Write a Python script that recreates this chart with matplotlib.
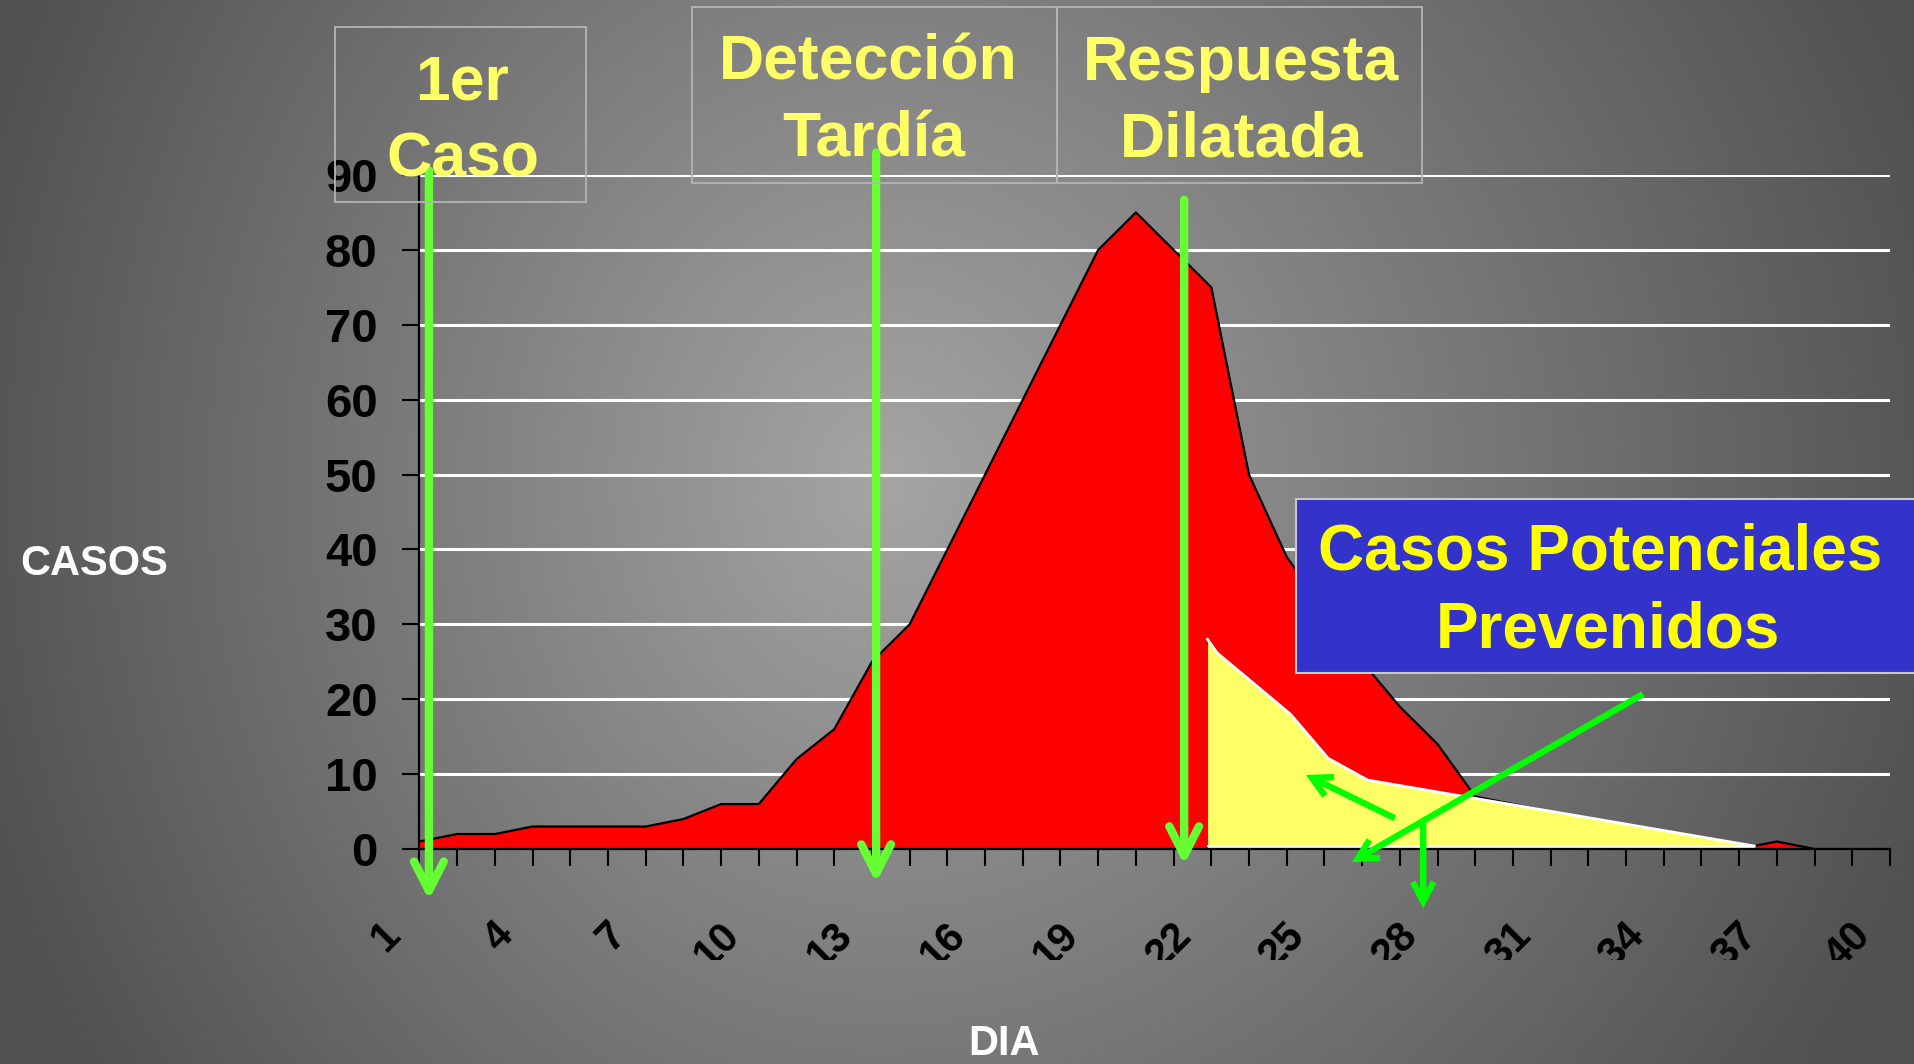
import numpy as np
import matplotlib
matplotlib.use('Agg')
import matplotlib.pyplot as plt
from matplotlib.patches import Rectangle
from matplotlib import transforms

plt.rcParams['font.family'] = ['Liberation Sans', 'DejaVu Sans']
plt.rcParams['font.weight'] = 'bold'

# ---------------- data ----------------
dias = list(range(1, 41))
casos = [1, 2, 2, 3, 3, 3, 3, 4, 6, 6, 12, 16, 25, 30, 40, 50, 60, 70, 80, 85,
         80, 75, 50, 39, 32, 25, 19, 14, 7, 6, 5, 4, 3, 2, 1, 0, 1, 0, 0, 0]
# casos potenciales prevenidos (yellow region)
prev_dia = [21.9, 22.15, 24.1, 25.1, 26.15, 36.4]
prev_casos = [28.0, 26.2, 18.0, 12.1, 9.2, 0.4]

y_ticks = [0, 10, 20, 30, 40, 50, 60, 70, 80, 90]
x_label_dias = [1, 4, 7, 10, 13, 16, 19, 22, 25, 28, 31, 34, 37, 40]
x_labels = ['1', '4', '7', '10', '13', '16', '19', '22', '25', '28', '31', '34', '37', '40']

# phase arrows: (day, start value, end value)
fase_dia = [1.25, 13.11, 21.28]
fase_ini = [90.6, 93.0, 86.7]
fase_fin = [-6.8, -4.5, -2.1]
# "prevented" arrows: start (day, value) -> end (day, value)
prev_flecha_ini = [(33.45, 20.7), (26.87, 4.1), (27.62, 3.4)]
prev_flecha_fin = [(25.73, -1.74), (24.51, 9.88), (27.62, -7.9)]

W, H = 1915, 1064
fig = plt.figure(figsize=(W / 100, H / 100), dpi=100)


def fx(px):
    return px / W


def fy(py):
    return 1 - py / H


# ---------------- background gradient ----------------
bg = fig.add_axes([0, 0, 1, 1], zorder=-5)
yy, xx = np.mgrid[0:H, 0:W]
cx, cy = 880.0, 480.0
rx = np.where(xx < cx, 950.0, 1120.0)
r = np.sqrt(((xx - cx) / rx) ** 2 + ((yy - cy) / 1100.0) ** 2)
v = (80 + 85 * np.clip(1 - r, 0, 1)) / 255.0
img = np.dstack([v, v, v])
bg.imshow(img, aspect='auto', extent=[0, 1, 0, 1], interpolation='bilinear')
bg.set_xlim(0, 1)
bg.set_ylim(0, 1)
bg.axis('off')

# ---------------- main axes ----------------
x0p, x1p = 419.5, 1890.0
y0p, y1p = 849.0, 175.0
ax = fig.add_axes([fx(x0p), fy(y0p), (x1p - x0p) / W, (y0p - y1p) / H])
ax.set_facecolor('none')
ax.set_xlim(1, 40)
ax.set_ylim(0, 90)

ax.set_axisbelow(True)
ax.yaxis.grid(True, color='white', lw=2.2, zorder=0)
ax.xaxis.grid(False)

ax.fill_between(dias, casos, 0, color='#ff0000', lw=0, zorder=2)
ax.plot(dias, casos, color='black', lw=1.6, zorder=2.1)

ax.fill_between(prev_dia, prev_casos, 0, color='#ffff66', lw=0, zorder=3)
ax.plot(prev_dia, prev_casos, color='white', lw=2.0, zorder=3.1)
ax.plot([prev_dia[0], prev_dia[-1]], [0.35, 0.35], color='white', lw=1.5, zorder=3.1)

for s in ['top', 'right']:
    ax.spines[s].set_visible(False)
for s in ['left', 'bottom']:
    ax.spines[s].set_color('black')
    ax.spines[s].set_linewidth(1.6)
    ax.spines[s].set_zorder(5)

ax.set_yticks(y_ticks)
ax.set_yticklabels([str(t) for t in y_ticks], fontsize=34, fontweight='bold', color='black')
ax.tick_params(axis='y', length=12.2, width=1.5, pad=18, color='black')
ax.set_xticks(dias)
ax.tick_params(axis='x', length=12.2, width=1.5, color='black', labelbottom=False)

# rotated x labels, clipped like the original
clip_rect = Rectangle((0, fy(960)), 1, 1 - fy(960), transform=fig.transFigure)
lab_tr = transforms.offset_copy(ax.get_xaxis_transform(), fig=fig, x=-18, y=-88, units='dots')
for d, lab in zip(x_label_dias, x_labels):
    t = ax.text(d, 0, lab, transform=lab_tr, rotation=45, rotation_mode='anchor',
                ha='right', va='baseline', fontsize=30, fontweight='bold', color='black')
    t.set_clip_path(clip_rect)
    t.set_clip_on(True)

# ---------------- arrows ----------------
for d, a, b in zip(fase_dia, fase_ini, fase_fin):
    ax.annotate('', xy=(d, b), xytext=(d, a), annotation_clip=False,
                arrowprops=dict(arrowstyle='->,head_length=21,head_width=10.7',
                                mutation_scale=1, color='#66ff33', lw=6,
                                shrinkA=0, shrinkB=0, capstyle='round', joinstyle='round'),
                zorder=6)
for (sa, sb) in zip(prev_flecha_ini, prev_flecha_fin):
    ax.annotate('', xy=sb, xytext=sa, annotation_clip=False,
                arrowprops=dict(arrowstyle='->,head_length=14,head_width=7.5',
                                mutation_scale=1, color='#00ff00', lw=4.6,
                                shrinkA=0, shrinkB=0, capstyle='butt', joinstyle='miter'),
                zorder=6)

# ---------------- boxes ----------------
def box(px0, py0, px1, py1, **kw):
    rect = Rectangle((fx(px0), fy(py1)), (px1 - px0) / W, (py1 - py0) / H,
                     transform=fig.transFigure, **kw)
    fig.add_artist(rect)


box(335, 27, 586, 202, facecolor='none', edgecolor='#b4b4b4', lw=1.3, zorder=2)
box(692.5, 7.3, 1057.2, 182.7, facecolor='none', edgecolor='#b4b4b4', lw=1.3, zorder=2)
box(1057.2, 7.3, 1422.5, 182.7, facecolor='none', edgecolor='#b4b4b4', lw=1.3, zorder=2)
box(1296, 499, 1925, 672.5, facecolor='#3333cc', edgecolor='#c8c8c8', lw=1.5, zorder=2)

# ---------------- texts ----------------
ty = dict(ha='center', va='baseline', fontsize=45, fontweight='bold', color='#ffff66', zorder=4)
fig.text(fx(462.5), fy(100), '1er', **ty)
fig.text(fx(462.5), fy(176.7), 'Caso', **ty)
fig.text(fx(868), fy(80), 'Detección', **ty)
fig.text(fx(874), fy(156.7), 'Tardía', **ty)
fig.text(fx(1240.6), fy(80), 'Respuesta', **ty)
fig.text(fx(1241), fy(156.7), 'Dilatada', **ty)

tb = dict(ha='center', va='baseline', fontsize=46, fontweight='bold', color='#ffff00', zorder=4)
fig.text(fx(1600), fy(570), 'Casos Potenciales', **tb)
fig.text(fx(1607.8), fy(648), 'Prevenidos', **tb)

tw = dict(ha='center', va='baseline', fontsize=30, fontweight='bold', color='white', zorder=4)
fig.text(fx(94), fy(575), 'CASOS', **tw)
fig.text(fx(1004), fy(1055), 'DIA', **tw)

fig.savefig('out.png', dpi=100)
